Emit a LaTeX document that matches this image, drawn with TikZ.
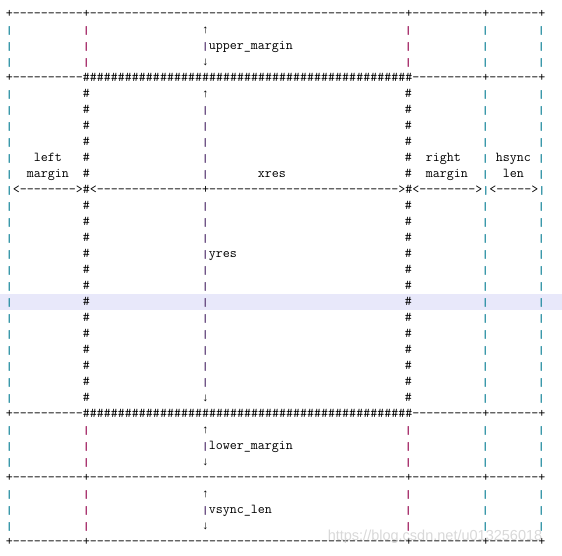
\documentclass[tikz,border=0pt]{standalone}
\usepackage{fontspec}
\usepackage{graphicx}
\newfontfamily\arrfont{Liberation Mono}
\newfontfamily\wmfont{Liberation Sans}
\definecolor{barteal}{RGB}{35,140,160}
\definecolor{barcrim}{RGB}{160,30,95}
\definecolor{barmid}{RGB}{95,65,120}
\definecolor{hlband}{RGB}{232,232,250}
\definecolor{wmgray}{RGB}{200,200,200}
\ExplSyntaxOn
\cs_new:Npn \myrep #1#2 { \prg_replicate:nn {#1} {#2} }
\ExplSyntaxOff
\newsavebox\barbox
\newcommand\mkbar[1]{\sbox\barbox{\resizebox*{10pt}{9pt}{\textcolor{#1}{|}}}%
  \makebox[7pt]{\raisebox{\dimexpr\dp\barbox-1.5pt\relax}{\usebox\barbox}}}
\newcommand\bT{\mkbar{barteal}}
\newcommand\bC{\mkbar{barcrim}}
\newcommand\bP{\mkbar{barmid}}
\newcommand\up{\makebox[7pt]{\arrfont\fontsize{11.665}{16}\selectfont ↑}}
\newcommand\dn{\makebox[7pt]{\arrfont\fontsize{11.665}{16}\selectfont ↓}}
\tikzset{
  asciitxt/.style={anchor=base west, inner sep=0pt, outer sep=0pt,
    font=\ttfamily\fontsize{13.61}{16}\selectfont, text=black},
  hl/.style={fill=hlband},
  wm/.style={anchor=center, inner sep=0pt, font=\wmfont\fontsize{14.5}{16}\selectfont,
    text=wmgray, opacity=0.7}
}
% place text at column #1, row #2
\newcommand\A[3]{\node[asciitxt] (c#1r#2) at ({5.8+7*#1},{17.5+16*#2}) {#3};}
\begin{document}
\begin{tikzpicture}[x=1pt,y=-1pt]
\useasboundingbox (0,0) rectangle (562,556);
\fill[hl] (0,294) rectangle (562,310);
% horizontal border rows
\foreach \r in {0,29,33}{
  \A{0}{\r}{+\myrep{10}{-}+\myrep{45}{-}+\myrep{10}{-}+\myrep{7}{-}+}
}
\foreach \r in {4,25}{
  \A{0}{\r}{+\myrep{10}{-}\myrep{47}{\#}\myrep{10}{-}+\myrep{7}{-}+}
}
% arrow row
\A{0}{11}{\bT<\myrep{8}{-}>\#<\myrep{15}{-}+\myrep{27}{-}>\#<\myrep{8}{-}>\bT<\myrep{5}{-}>\bT}
% margin bands (top and bottom)
\foreach \r in {1,2,3,26,27,28,30,31,32}{
  \A{0}{\r}{\bT}
  \A{11}{\r}{\bC}
  \A{57}{\r}{\bC}
  \A{68}{\r}{\bT}
  \A{76}{\r}{\bT}
}
\A{28}{1}{\up}
\A{28}{2}{\bP upper\_margin}
\A{28}{3}{\dn}
\A{28}{26}{\up}
\A{28}{27}{\bP lower\_margin}
\A{28}{28}{\dn}
\A{28}{30}{\up}
\A{28}{31}{\bP vsync\_len}
\A{28}{32}{\dn}
% visible area
\foreach \r in {5,6,7,8,9,10,12,13,14,15,16,17,18,19,20,21,22,23,24}{
  \A{0}{\r}{\bT}
  \A{11}{\r}{\#}
  \A{57}{\r}{\#}
  \A{68}{\r}{\bT}
  \A{76}{\r}{\bT}
}
\foreach \r in {6,7,8,9,10,12,13,14,16,17,18,19,20,21,22,23}{
  \A{28}{\r}{\bP}
}
\A{28}{5}{\up}
\A{28}{15}{\bP yres}
\A{28}{24}{\dn}
% labels
\A{4}{9}{left}
\A{3}{10}{margin}
\A{36}{10}{xres}
\A{60}{9}{right}
\A{60}{10}{margin}
\A{70}{9}{hsync}
\A{71}{10}{len}
% watermark
\node[wm] (watermark) at (435,537) {https://blog.csdn.net/u013256018};
\end{tikzpicture}
\end{document}
